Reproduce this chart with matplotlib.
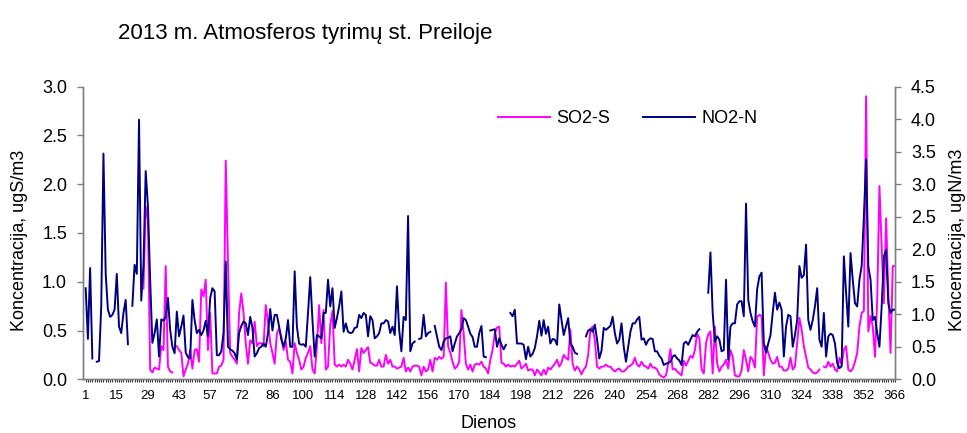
import numpy as np
import matplotlib
matplotlib.use('Agg')
import matplotlib.pyplot as plt

plt.rcParams['font.family'] = ['Liberation Sans', 'DejaVu Sans']

nan = np.nan

# ==================== data ====================
title = '2013 m. Atmosferos tyrimų st. Preiloje'

tick_labels = ['1', '15', '29', '43', '57', '72', '86', '100', '114', '128', '142',
               '156', '170', '184', '198', '212', '226', '240', '254', '268', '282',
               '296', '310', '324', '338', '352', '366']

# SO2-S, ugS/m3 (left axis), one value per day
so2 = [
    nan, nan, nan, nan, nan, nan, nan, nan, nan, nan,
    nan, nan, nan, nan, nan, nan, nan, nan, nan, nan,
    nan, nan, nan, nan, nan, nan, 0.93, 1.77, 1.64, 0.10,
    0.07, 0.12, 0.11, 0.10, 0.34, 0.30, 1.16, 0.13, 0.08, 0.07,
    nan, 0.34, 0.30, 0.27, 0.03, 0.10, 0.16, 0.30, 0.11, 0.30,
    0.31, 0.18, 0.92, 0.85, 1.02, 0.30, 0.68, 0.06, 0.06, 0.06,
    0.13, 0.14, 0.20, 2.24, 1.19, 0.27, 0.23, 0.20, 0.16, 0.68,
    0.88, 0.68, 0.37, 0.16, 0.40, 0.37, 0.59, 0.34, 0.37, 0.37,
    0.34, 0.76, 0.59, 0.37, 0.27, 0.16, 0.47, 0.52, 0.44, 0.30,
    0.39, 0.20, 0.18, 0.06, 0.37, 0.27, 0.20, 0.10, 0.13, 0.22,
    0.27, 0.34, 0.10, 0.06, 0.34, 0.76, 0.37, 0.71, 0.10, 0.13,
    0.56, 0.70, 0.15, 0.13, 0.15, 0.13, 0.15, 0.13, 0.20, 0.16,
    0.10, 0.20, 0.31, 0.08, 0.32, 0.27, 0.30, 0.33, 0.17, 0.16,
    0.14, 0.14, 0.20, 0.13, 0.13, 0.25, 0.16, 0.20, 0.13, 0.13,
    0.11, 0.12, 0.13, 0.22, 0.08, 0.12, 0.08, 0.13, 0.14, 0.14,
    0.13, 0.04, 0.13, 0.08, 0.10, 0.20, 0.08, 0.22, 0.20, 0.23,
    0.21, 0.23, 0.99, 0.34, 0.27, 0.18, 0.11, 0.13, 0.18, 0.71,
    0.47, 0.16, 0.10, 0.15, 0.08, 0.15, 0.16, 0.15, 0.18, 0.13,
    0.11, 0.06, 0.20, 0.30, 0.47, 0.53, 0.54, 0.17, 0.16, 0.13,
    0.15, 0.13, 0.14, 0.13, 0.16, 0.19, 0.11, 0.13, 0.16, 0.09,
    0.10, 0.10, 0.04, 0.10, 0.07, 0.04, 0.10, 0.05, 0.12, 0.10,
    0.13, 0.16, 0.20, 0.13, 0.17, 0.25, 0.22, 0.20, 0.51, 0.16,
    0.09, 0.13, 0.10, 0.05, 0.10, 0.13, 0.25, 0.51, 0.54, 0.40,
    0.13, 0.11, 0.13, 0.13, 0.15, 0.13, 0.13, 0.10, 0.08, 0.10,
    0.11, 0.08, 0.08, 0.10, 0.13, 0.14, 0.16, 0.22, 0.15, 0.13,
    0.18, 0.14, 0.13, 0.11, 0.16, 0.12, 0.12, 0.10, 0.05, 0.03,
    0.02, 0.04, 0.16, 0.31, 0.10, 0.11, 0.08, 0.06, 0.04, 0.19,
    0.14, 0.19, 0.24, 0.22, 0.30, 0.47, 0.42, 0.10, 0.06, 0.37,
    0.46, 0.49, 0.06, 0.54, 0.16, 0.08, 0.13, 0.15, 0.20, 0.11,
    0.30, 0.23, 0.04, 0.03, 0.03, 0.09, 0.30, 0.20, 0.08, 0.23,
    0.20, 0.12, 0.64, 0.66, 0.65, 0.04, 0.34, 0.27, 0.20, 0.16,
    0.17, 0.23, 0.13, 0.13, 0.09, 0.09, 0.11, 0.22, 0.10, 0.13,
    0.37, 0.63, 0.51, 0.34, 0.23, 0.12, 0.10, 0.07, 0.06, 0.07,
    0.10, nan, 0.13, 0.12, 0.18, 0.13, 0.16, 0.10, 0.08, 0.22,
    0.15, 0.30, 0.34, 0.10, 0.08, 0.11, 0.18, 0.27, 0.54, 0.68,
    0.70, 2.90, 0.49, 0.65, 0.54, 0.23, 0.82, 1.98, 1.36, 0.78,
    1.65, 0.88, 0.27, 1.16, 1.16,
]

# NO2-N, ugN/m3 (right axis), one value per day
no2 = [
    1.40, 0.62, 1.71, 0.32, nan, 0.27, 0.28, 1.12, 3.47, 1.63,
    1.07, 0.96, 0.99, 1.07, 1.62, 0.81, 0.71, 1.02, 1.22, 0.54,
    nan, 1.13, 1.76, 1.62, 3.99, 1.21, 1.76, 3.20, 2.66, 1.53,
    0.56, 0.71, 0.92, 0.35, 0.92, 0.90, 0.96, 1.25, 0.76, 0.50,
    0.40, 1.04, 0.66, 0.81, 0.98, 0.41, 0.34, 0.32, 1.22, 0.91,
    0.71, 0.76, 0.68, 0.75, 0.90, 0.66, 1.25, 1.40, 1.35, 0.37,
    0.37, 0.43, 0.71, 1.81, 0.50, 0.46, 0.44, 0.40, 0.30, 0.71,
    0.82, 0.89, 0.86, 0.68, 0.96, 0.79, 0.35, 0.40, 0.48, 0.50,
    0.55, 0.50, 0.71, 1.08, 0.75, 0.99, 0.99, 0.81, 0.61, 0.50,
    0.63, 0.91, 0.50, 0.50, 1.66, 0.81, 0.55, 0.53, 0.54, 0.50,
    1.02, 1.57, 0.91, 0.35, 0.68, 0.66, 0.63, 1.02, 1.02, 1.53,
    1.12, 1.40, 0.79, 0.94, 1.12, 1.35, 0.73, 0.86, 0.73, 0.71,
    0.72, 0.79, 0.80, 0.99, 0.94, 1.02, 0.99, 0.66, 0.97, 0.91,
    0.63, 0.66, 0.71, 0.86, 0.86, 0.91, 0.89, 0.71, 0.81, 0.68,
    1.43, 0.76, 0.43, 0.96, 0.91, 2.51, 0.43, 0.55, 0.58, nan,
    0.62, 0.63, 0.99, 0.66, 0.71, 0.73, nan, 0.82, 0.66, 0.50,
    0.45, 0.58, 0.63, 0.64, 0.66, 0.43, 0.55, 0.66, 0.71, 0.77,
    0.94, 0.91, 0.81, 0.70, 0.65, 0.50, 0.50, 0.71, 0.82, 0.35,
    0.34, nan, 0.75, 0.76, 0.77, 0.50, 0.63, 0.53, 0.46, 0.53,
    nan, 1.02, 0.97, 1.07, 0.55, 0.55, 0.55, 0.53, 0.31, 0.50,
    0.35, 0.39, 0.48, 0.66, 0.90, 0.67, 0.91, 0.70, 0.81, 0.55,
    0.62, 0.61, 0.53, 1.15, 0.91, 0.68, 0.81, 0.94, 0.55, 0.50,
    0.41, 0.39, nan, nan, nan, 0.66, 0.75, 0.77, 0.73, 0.84,
    0.61, 0.32, 0.44, 0.79, 0.76, 0.79, 0.82, 0.96, 0.71, 0.55,
    0.61, 0.86, 0.50, 0.27, 0.50, 0.73, 0.86, 0.86, 0.92, 0.96,
    0.61, 0.63, 0.53, 0.60, 0.63, 0.62, 0.43, 0.43, 0.36, 0.32,
    0.22, 0.24, 0.25, 0.27, 0.35, 0.37, 0.32, 0.29, 0.22, 0.55,
    0.58, 0.53, 0.61, 0.68, 0.66, 0.73, 0.77, nan, nan, nan,
    1.33, 1.95, 1.02, 0.58, 0.66, 0.61, 0.43, 0.45, 1.53, 0.30,
    0.81, 0.86, 0.86, 1.15, 1.20, 1.20, 0.97, 2.70, 1.22, 1.02,
    0.89, 0.81, 1.38, 1.58, 1.64, 0.55, 0.41, 0.55, 0.68, 1.02,
    1.33, 1.07, 1.18, 1.07, 0.35, 0.81, 0.99, 0.97, 0.50, 0.68,
    0.91, 1.74, 1.56, 1.60, 2.07, 0.91, 0.76, 0.91, 1.12, 1.40,
    0.61, 0.50, 1.02, 0.35, 0.66, 0.70, 0.68, 0.55, 0.25, 0.17,
    0.20, 1.89, 1.33, 0.81, 1.94, 1.53, 1.17, 1.12, 1.53, 1.74,
    2.50, 3.38, 1.74, 1.53, 0.91, 0.96, 0.71, 0.50, 1.12, 1.89,
    1.99, 1.17, 1.02, 1.07, 1.07,
]

# ==================== plot ====================
fig = plt.figure(figsize=(9.67, 4.33), dpi=100)
ax = fig.add_axes([83 / 967, 1 - 379.3 / 433, 812 / 967, 292.8 / 433])
ax2 = ax.twinx()

x = np.arange(len(so2))
l1, = ax.plot(x, so2, color='#FF00FF', lw=1.4, label='SO2-S')
l2, = ax2.plot(x, no2, color='#000080', lw=1.4, label='NO2-N')

ax.set_xlim(-1.2, 363.8)
ax.set_ylim(0, 3.0)
ax2.set_ylim(0, 4.5)

ax.set_yticks(np.arange(0, 3.01, 0.5))
ax.set_yticklabels([f'{v:.1f}' for v in np.arange(0, 3.01, 0.5)])
ax2.set_yticks(np.arange(0, 4.51, 0.5))
ax2.set_yticklabels([f'{v:.1f}' for v in np.arange(0, 4.51, 0.5)])

ax.set_xticks(np.arange(0, 365, 14))
ax.set_xticklabels(tick_labels)
ax.set_xticks(np.arange(0, 365, 1), minor=True)

grey = '#808080'
for a in (ax, ax2):
    a.spines['top'].set_visible(False)
    for s in ('left', 'right', 'bottom'):
        a.spines[s].set_color(grey)
        a.spines[s].set_linewidth(1.0)
    a.set_facecolor('none')

ax.tick_params(axis='y', direction='out', length=4, width=1, color=grey, pad=7.5, labelsize=13)
ax2.tick_params(axis='y', direction='out', length=4, width=1, color=grey, pad=7.5, labelsize=13)
ax.tick_params(axis='x', which='both', direction='out', length=2.5, width=0.8, color='#333333',
               pad=5, labelsize=9.5)

fig.text(118 / 967, 1 - 33 / 433, title, fontsize=16, ha='left', va='center')
fig.text(20 / 967, 1 - 240 / 433, 'Koncentracija, ugS/m3', fontsize=13, rotation=90,
         ha='center', va='center')
fig.text(957 / 967, 1 - 240 / 433, 'Koncentracija, ugN/m3', fontsize=13, rotation=90,
         ha='center', va='center')
fig.text(489 / 967, 1 - 424 / 433, 'Dienos', fontsize=13, ha='center', va='center')

ax2.legend(handles=[l1, l2], loc='center', bbox_to_anchor=(0.671, 0.891), ncol=2,
           frameon=False, fontsize=13, handlelength=2.9, handletextpad=0.35,
           columnspacing=1.8)

plt.savefig('out.png', dpi=100)
plt.close()
